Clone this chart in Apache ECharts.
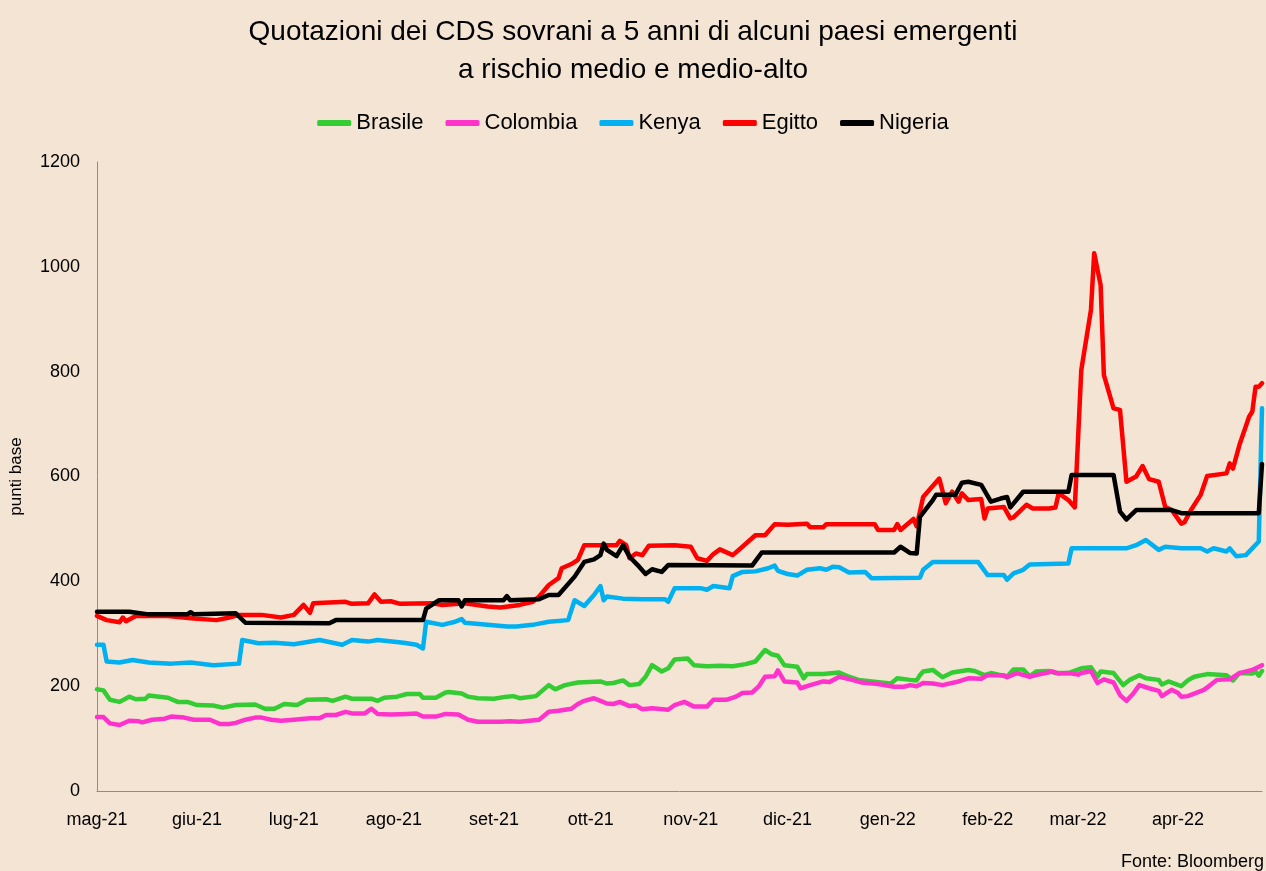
<!DOCTYPE html>
<html>
<head>
<meta charset="utf-8">
<script src="https://cdn.jsdelivr.net/npm/echarts@6/dist/echarts.min.js"></script>
<style>
  html, body { margin: 0; padding: 0; background: #f4e4d4; }
  #chart { width: 1266px; height: 871px; }
</style>
</head>
<body>
<div id="chart"></div>
<script>
// tick positions on the date axis (Excel style: same day each month) and names
var monthTicks = ['2021-05-03','2021-06-03','2021-07-03','2021-08-03','2021-09-03','2021-10-03',
                  '2021-11-03','2021-12-03','2022-01-03','2022-02-03','2022-03-03','2022-04-03'];
var monthNames = ['gen','feb','mar','apr','mag','giu','lug','ago','set','ott','nov','dic'];

var brasile = [
  ['2021-05-03',194],['2021-05-05',192],['2021-05-07',174],['2021-05-10',170],['2021-05-13',180],
  ['2021-05-15',175],['2021-05-18',176],['2021-05-19',182],['2021-05-25',178],['2021-05-28',170],
  ['2021-05-31',170],['2021-06-03',164],['2021-06-08',163],['2021-06-11',159],['2021-06-15',164],
  ['2021-06-21',165],['2021-06-24',157],['2021-06-27',157],['2021-06-30',166],['2021-07-04',164],
  ['2021-07-07',174],['2021-07-13',175],['2021-07-15',172],['2021-07-19',180],['2021-07-21',176],
  ['2021-07-27',176],['2021-07-29',172],['2021-07-31',178],['2021-08-04',180],['2021-08-07',185],
  ['2021-08-11',185],['2021-08-12',178],['2021-08-16',178],['2021-08-19',188],['2021-08-20',189],
  ['2021-08-24',186],['2021-08-26',180],['2021-08-29',177],['2021-09-03',176],['2021-09-07',180],
  ['2021-09-09',181],['2021-09-11',177],['2021-09-16',181],['2021-09-20',202],['2021-09-22',194],
  ['2021-09-25',202],['2021-09-29',207],['2021-10-06',209],['2021-10-08',205],['2021-10-10',206],
  ['2021-10-13',211],['2021-10-15',202],['2021-10-18',204],['2021-10-20',218],['2021-10-22',240],
  ['2021-10-25',228],['2021-10-27',234],['2021-10-29',251],['2021-11-02',253],['2021-11-04',240],
  ['2021-11-08',238],['2021-11-12',239],['2021-11-16',238],['2021-11-20',242],['2021-11-23',247],
  ['2021-11-26',269],['2021-11-28',261],['2021-11-30',258],['2021-12-02',240],['2021-12-06',237],
  ['2021-12-08',215],['2021-12-09',223],['2021-12-14',223],['2021-12-19',226],['2021-12-22',218],
  ['2021-12-25',212],['2022-01-01',207],['2022-01-04',205],['2022-01-06',215],['2022-01-10',212],
  ['2022-01-12',211],['2022-01-13',221],['2022-01-14',228],['2022-01-17',231],['2022-01-20',217],
  ['2022-01-23',226],['2022-01-28',231],['2022-01-30',229],['2022-02-02',221],['2022-02-04',225],
  ['2022-02-09',218],['2022-02-11',232],['2022-02-14',232],['2022-02-16',219],['2022-02-18',228],
  ['2022-02-22',229],['2022-02-24',225],['2022-02-28',225],['2022-03-04',234],['2022-03-07',236],
  ['2022-03-09',218],['2022-03-10',228],['2022-03-14',225],['2022-03-17',202],['2022-03-19',212],
  ['2022-03-22',221],['2022-03-24',215],['2022-03-28',212],['2022-03-29',203],['2022-03-31',209],
  ['2022-04-04',200],['2022-04-06',211],['2022-04-08',218],['2022-04-12',223],['2022-04-18',221],
  ['2022-04-20',211],['2022-04-22',225],['2022-04-26',224],['2022-04-27',228],['2022-04-28',220],
  ['2022-04-29',229]
];

var colombia = [
  ['2021-05-03',141],['2021-05-05',141],['2021-05-07',129],['2021-05-10',126],['2021-05-13',134],
  ['2021-05-16',133],['2021-05-17',131],['2021-05-20',136],['2021-05-24',138],['2021-05-26',142],
  ['2021-05-30',140],['2021-06-02',136],['2021-06-07',136],['2021-06-10',128],['2021-06-13',128],
  ['2021-06-15',130],['2021-06-18',136],['2021-06-21',140],['2021-06-23',140],['2021-06-26',136],
  ['2021-06-29',134],['2021-07-03',136],['2021-07-08',139],['2021-07-11',139],['2021-07-13',145],
  ['2021-07-16',145],['2021-07-19',151],['2021-07-21',148],['2021-07-25',148],['2021-07-27',157],
  ['2021-07-29',147],['2021-08-02',146],['2021-08-07',147],['2021-08-10',148],['2021-08-12',142],
  ['2021-08-16',142],['2021-08-19',147],['2021-08-23',146],['2021-08-26',136],['2021-08-29',132],
  ['2021-09-05',132],['2021-09-08',133],['2021-09-11',132],['2021-09-17',136],['2021-09-20',151],
  ['2021-09-23',153],['2021-09-27',157],['2021-09-29',166],['2021-10-01',172],['2021-10-04',177],
  ['2021-10-06',172],['2021-10-08',167],['2021-10-10',166],['2021-10-12',170],['2021-10-15',162],
  ['2021-10-17',163],['2021-10-19',156],['2021-10-22',158],['2021-10-27',155],['2021-10-29',164],
  ['2021-11-01',170],['2021-11-04',161],['2021-11-08',161],['2021-11-10',174],['2021-11-14',174],
  ['2021-11-17',180],['2021-11-19',187],['2021-11-22',188],['2021-11-24',199],['2021-11-26',218],
  ['2021-11-29',219],['2021-11-30',230],['2021-12-02',209],['2021-12-06',207],['2021-12-07',196],
  ['2021-12-10',202],['2021-12-14',209],['2021-12-16',208],['2021-12-19',218],['2021-12-23',212],
  ['2021-12-26',207],['2021-12-31',204],['2022-01-05',199],['2022-01-08',199],['2022-01-10',202],
  ['2022-01-12',200],['2022-01-14',206],['2022-01-17',205],['2022-01-20',202],['2022-01-25',209],
  ['2022-01-28',215],['2022-02-01',214],['2022-02-03',221],['2022-02-08',221],['2022-02-09',217],
  ['2022-02-12',225],['2022-02-16',218],['2022-02-18',221],['2022-02-23',228],['2022-02-25',224],
  ['2022-02-28',225],['2022-03-03',222],['2022-03-04',225],['2022-03-07',229],['2022-03-09',206],
  ['2022-03-11',213],['2022-03-14',207],['2022-03-16',183],['2022-03-18',172],['2022-03-20',185],
  ['2022-03-22',202],['2022-03-25',196],['2022-03-28',191],['2022-03-29',181],['2022-04-01',193],
  ['2022-04-03',187],['2022-04-04',180],['2022-04-06',181],['2022-04-11',193],['2022-04-13',202],
  ['2022-04-15',212],['2022-04-19',213],['2022-04-22',225],['2022-04-26',231],['2022-04-29',240]
];

var kenya = [
  ['2021-05-03',279],['2021-05-05',279],['2021-05-06',247],['2021-05-10',245],['2021-05-14',250],
  ['2021-05-19',245],['2021-05-26',243],['2021-06-01',245],['2021-06-08',240],['2021-06-16',243],
  ['2021-06-17',288],['2021-06-22',282],['2021-06-27',283],['2021-07-03',280],['2021-07-11',288],
  ['2021-07-18',279],['2021-07-21',288],['2021-07-26',285],['2021-07-29',288],['2021-08-06',283],
  ['2021-08-10',279],['2021-08-12',272],['2021-08-13',323],['2021-08-18',317],['2021-08-22',323],
  ['2021-08-24',328],['2021-08-25',321],['2021-09-01',317],['2021-09-07',314],['2021-09-10',314],
  ['2021-09-15',317],['2021-09-20',323],['2021-09-26',326],['2021-09-28',364],['2021-10-01',353],
  ['2021-10-04',374],['2021-10-06',391],['2021-10-07',364],['2021-10-08',371],['2021-10-13',367],
  ['2021-10-19',366],['2021-10-26',366],['2021-10-27',361],['2021-10-29',387],['2021-11-06',387],
  ['2021-11-08',384],['2021-11-10',391],['2021-11-15',387],['2021-11-16',410],['2021-11-19',418],
  ['2021-11-23',419],['2021-11-27',425],['2021-11-29',430],['2021-11-30',420],['2021-12-03',414],
  ['2021-12-06',411],['2021-12-09',422],['2021-12-13',425],['2021-12-15',422],['2021-12-17',428],
  ['2021-12-19',427],['2021-12-22',417],['2021-12-27',418],['2021-12-29',406],['2022-01-13',407],
  ['2022-01-14',422],['2022-01-17',437],['2022-01-31',437],['2022-02-03',412],['2022-02-08',412],
  ['2022-02-09',403],['2022-02-11',415],['2022-02-14',422],['2022-02-16',432],['2022-02-28',434],
  ['2022-03-01',463],['2022-03-18',463],['2022-03-21',469],['2022-03-24',479],['2022-03-28',460],
  ['2022-03-30',466],['2022-04-04',463],['2022-04-10',463],['2022-04-12',457],['2022-04-14',463],
  ['2022-04-18',457],['2022-04-19',463],['2022-04-21',448],['2022-04-24',450],['2022-04-28',476],
  ['2022-04-29',730]
];

var egitto = [
  ['2021-05-03',334],['2021-05-06',326],['2021-05-10',322],['2021-05-11',331],['2021-05-12',324],
  ['2021-05-15',334],['2021-05-25',334],['2021-06-02',329],['2021-06-09',326],['2021-06-13',331],
  ['2021-06-16',336],['2021-06-23',336],['2021-06-29',331],['2021-07-03',336],['2021-07-06',355],
  ['2021-07-08',340],['2021-07-09',358],['2021-07-19',361],['2021-07-21',357],['2021-07-26',358],
  ['2021-07-28',375],['2021-07-30',361],['2021-08-02',362],['2021-08-05',357],['2021-08-15',358],
  ['2021-08-18',355],['2021-08-25',358],['2021-09-01',352],['2021-09-05',350],['2021-09-11',355],
  ['2021-09-15',361],['2021-09-17',371],['2021-09-20',393],['2021-09-23',406],['2021-09-24',425],
  ['2021-09-27',433],['2021-09-29',441],['2021-10-01',469],['2021-10-07',469],['2021-10-11',469],
  ['2021-10-12',477],['2021-10-14',469],['2021-10-15',444],['2021-10-17',453],['2021-10-19',450],
  ['2021-10-21',468],['2021-10-29',469],['2021-11-03',466],['2021-11-05',444],['2021-11-08',439],
  ['2021-11-10',452],['2021-11-12',461],['2021-11-16',450],['2021-11-19',466],['2021-11-23',488],
  ['2021-11-26',488],['2021-11-29',509],['2021-12-03',508],['2021-12-09',510],['2021-12-10',503],
  ['2021-12-14',503],['2021-12-15',509],['2021-12-30',509],['2021-12-31',498],['2022-01-05',498],
  ['2022-01-06',509],['2022-01-07',498],['2022-01-11',519],['2022-01-12',505],['2022-01-14',561],
  ['2022-01-19',596],['2022-01-21',549],['2022-01-23',571],['2022-01-25',552],['2022-01-26',568],
  ['2022-01-28',555],['2022-02-01',557],['2022-02-02',520],['2022-02-03',539],['2022-02-08',542],
  ['2022-02-10',520],['2022-02-11',522],['2022-02-15',546],['2022-02-17',539],['2022-02-22',539],
  ['2022-02-24',541],['2022-02-25',568],['2022-02-28',555],['2022-03-02',541],['2022-03-04',803],
  ['2022-03-07',918],['2022-03-08',1026],['2022-03-10',965],['2022-03-11',794],['2022-03-14',730],
  ['2022-03-16',727],['2022-03-18',590],['2022-03-21',600],['2022-03-23',620],['2022-03-25',595],
  ['2022-03-28',590],['2022-03-30',542],['2022-04-01',536],['2022-04-04',510],['2022-04-05',513],
  ['2022-04-07',536],['2022-04-10',565],['2022-04-12',601],['2022-04-18',606],['2022-04-19',625],
  ['2022-04-20',615],['2022-04-22',660],['2022-04-25',714],['2022-04-26',724],['2022-04-27',771],
  ['2022-04-28',771],['2022-04-29',778]
];

var nigeria = [
  ['2021-05-03',342],['2021-05-13',342],['2021-05-19',337],['2021-05-31',337],['2021-06-01',341],
  ['2021-06-02',337],['2021-06-15',339],['2021-06-18',321],['2021-07-14',320],['2021-07-16',326],
  ['2021-08-12',326],['2021-08-13',348],['2021-08-17',364],['2021-08-23',364],['2021-08-24',352],
  ['2021-08-25',364],['2021-09-06',364],['2021-09-07',372],['2021-09-08',364],['2021-09-17',366],
  ['2021-09-20',374],['2021-09-23',374],['2021-09-28',409],['2021-10-01',437],['2021-10-04',442],
  ['2021-10-06',450],['2021-10-07',472],['2021-10-08',460],['2021-10-11',448],['2021-10-13',469],
  ['2021-10-15',447],['2021-10-18',428],['2021-10-20',414],['2021-10-22',423],['2021-10-25',418],
  ['2021-10-27',431],['2021-11-22',430],['2021-11-25',455],['2022-01-05',455],['2022-01-07',466],
  ['2022-01-10',454],['2022-01-12',453],['2022-01-13',523],['2022-01-17',555],['2022-01-18',565],
  ['2022-01-24',565],['2022-01-26',588],['2022-01-28',590],['2022-02-01',584],['2022-02-04',552],
  ['2022-02-07',558],['2022-02-09',561],['2022-02-10',541],['2022-02-14',571],['2022-02-28',571],
  ['2022-03-01',603],['2022-03-14',603],['2022-03-16',533],['2022-03-18',518],['2022-03-21',536],
  ['2022-04-01',536],['2022-04-04',530],['2022-04-28',530],['2022-04-29',624]
];

// date string -> UTC timestamp, so the x axis is a plain numeric scale
function ts(s) {
  var p = s.split('-');
  return Date.UTC(+p[0], +p[1] - 1, +p[2]);
}
function toPoints(arr) {
  return arr.map(function (d) { return [ts(d[0]), d[1]]; });
}

var font = "'Liberation Sans', Arial, sans-serif";
var chart = echarts.init(document.getElementById('chart'));

function mkSeries(name, data, color) {
  return {
    name: name,
    type: 'line',
    data: toPoints(data),
    showSymbol: false,
    symbol: 'none',
    lineStyle: { color: color, width: 4.5, cap: 'round', join: 'round' },
    itemStyle: { color: color },
    emphasis: { disabled: true }
  };
}

var option = {
  backgroundColor: '#f4e4d4',
  animation: false,
  textStyle: { fontFamily: font },
  title: {
    text: 'Quotazioni dei CDS sovrani a 5 anni di alcuni paesi emergenti\na rischio medio e medio-alto',
    left: 'center',
    top: 8,
    textStyle: { fontSize: 28, fontWeight: 'normal', color: '#000', lineHeight: 38, fontFamily: font, align: 'center' }
  },
  legend: {
    top: 107,
    left: 'center',
    icon: 'roundRect',
    itemWidth: 34,
    itemHeight: 6,
    itemGap: 22,
    textStyle: { fontSize: 22, color: '#000', fontFamily: font },
    data: ['Brasile', 'Colombia', 'Kenya', 'Egitto', 'Nigeria']
  },
  grid: { left: 97, right: 4, top: 162, bottom: 80, containLabel: false, outerBoundsMode: 'none' },
  xAxis: {
    type: 'value',
    min: ts('2021-05-03'),
    max: ts('2022-04-29'),
    axisLine: { show: true, onZero: false, lineStyle: { color: '#8c8c8c', width: 1 } },
    axisTick: { show: false },
    splitLine: { show: false },
    axisLabel: {
      customValues: monthTicks.map(ts),
      color: '#000',
      fontSize: 18,
      margin: 20,
      hideOverlap: false,
      formatter: function (val) {
        var d = new Date(val);
        return monthNames[d.getUTCMonth()] + '-' + String(d.getUTCFullYear()).slice(2);
      }
    }
  },
  yAxis: {
    type: 'value',
    min: 0,
    max: 1200,
    interval: 200,
    name: 'punti base',
    nameLocation: 'middle',
    nameGap: 72,
    nameRotate: 90,
    nameTextStyle: { fontSize: 17, color: '#000', fontFamily: font },
    axisLine: { show: true, lineStyle: { color: '#8c8c8c', width: 1 } },
    axisTick: { show: false },
    splitLine: { show: false },
    axisLabel: {
      color: '#000',
      fontSize: 18,
      margin: 17,
      formatter: function (v) { return String(v); }
    }
  },
  graphic: [{
    type: 'text',
    right: 2,
    bottom: 0,
    style: { text: 'Fonte: Bloomberg', fill: '#000', font: "18px 'Liberation Sans', Arial, sans-serif" }
  }],
  series: [
    mkSeries('Brasile', brasile, '#33cc33'),
    mkSeries('Colombia', colombia, '#ff33cc'),
    mkSeries('Kenya', kenya, '#00b0f0'),
    mkSeries('Egitto', egitto, '#ff0000'),
    mkSeries('Nigeria', nigeria, '#000000')
  ]
};
chart.setOption(option);
</script>
</body>
</html>
